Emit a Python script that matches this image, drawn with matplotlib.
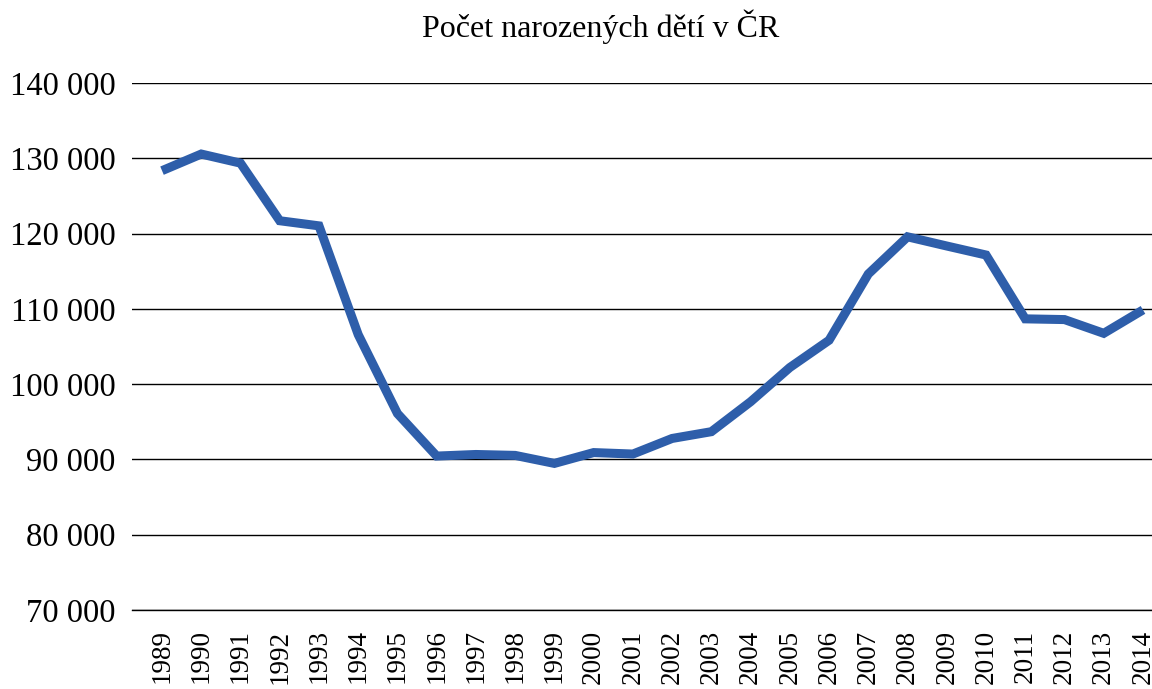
import matplotlib
matplotlib.use("Agg")
import matplotlib.pyplot as plt
from matplotlib.ticker import FuncFormatter

years = list(range(1989, 2015))
births = [128356, 130564, 129354, 121705, 121025, 106579, 96097, 90446,
          90657, 90535, 89471, 90910, 90715, 92786, 93685, 97664, 102211,
          105831, 114632, 119570, 118348, 117153, 108673, 108576, 106751,
          109860]
y_ticks = [70000, 80000, 90000, 100000, 110000, 120000, 130000, 140000]
title = "Počet narozených dětí v ČR"

plt.rcParams['font.family'] = ['Liberation Serif', 'DejaVu Serif']

fig = plt.figure(figsize=(11.52, 6.89), dpi=100)
ax = fig.add_axes([132/1152, 1 - 610/689, 1 - 132/1152, (610 - 83)/689])

ax.plot(years, births, color='#2E5EAA', linewidth=6.5, solid_joinstyle='miter',
        solid_capstyle='butt', zorder=3)

ax.set_ylim(70000, 140000)
ax.set_yticks(y_ticks)
ax.yaxis.set_major_formatter(FuncFormatter(lambda v, p: f"{int(v):,}".replace(",", " ")))
ax.set_xlim(1989 - 0.765, 2014 + 0.23)
ax.set_xticks(years)
ax.set_xticklabels([str(y) for y in years], rotation=90, fontsize=19.5)
ax.tick_params(axis='y', labelsize=23.5, length=0, pad=12)
ax.tick_params(axis='x', length=0, pad=14)
ax.grid(axis='y', color='black', linewidth=1.0, zorder=1)
for s in ['top', 'right', 'left']:
    ax.spines[s].set_visible(False)
ax.spines['bottom'].set_linewidth(1.0)
ax.spines['bottom'].set_color('black')

fig.text(601/1152, 1 - 37/689, title, ha='center', va='baseline', fontsize=23)

fig.savefig("out.png", dpi=100)
